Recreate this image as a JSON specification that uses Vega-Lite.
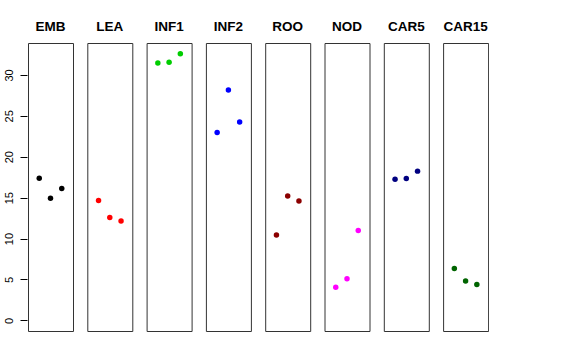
{
  "$schema": "https://vega.github.io/schema/vega-lite/v6.json",
  "padding": {"left": 3, "top": 19, "right": 0, "bottom": 0},
  "data": {"values": [
    {"tissue": "EMB", "rep": 1, "value": 17.38},
    {"tissue": "EMB", "rep": 2, "value": 14.93},
    {"tissue": "EMB", "rep": 3, "value": 16.12},
    {"tissue": "LEA", "rep": 1, "value": 14.65},
    {"tissue": "LEA", "rep": 2, "value": 12.57},
    {"tissue": "LEA", "rep": 3, "value": 12.15},
    {"tissue": "INF1", "rep": 1, "value": 31.46},
    {"tissue": "INF1", "rep": 2, "value": 31.54},
    {"tissue": "INF1", "rep": 3, "value": 32.6},
    {"tissue": "INF2", "rep": 1, "value": 22.97},
    {"tissue": "INF2", "rep": 2, "value": 28.15},
    {"tissue": "INF2", "rep": 3, "value": 24.24},
    {"tissue": "ROO", "rep": 1, "value": 10.44},
    {"tissue": "ROO", "rep": 2, "value": 15.21},
    {"tissue": "ROO", "rep": 3, "value": 14.6},
    {"tissue": "NOD", "rep": 1, "value": 4.04},
    {"tissue": "NOD", "rep": 2, "value": 5.1},
    {"tissue": "NOD", "rep": 3, "value": 10.98},
    {"tissue": "CAR5", "rep": 1, "value": 17.26},
    {"tissue": "CAR5", "rep": 2, "value": 17.34},
    {"tissue": "CAR5", "rep": 3, "value": 18.24},
    {"tissue": "CAR15", "rep": 1, "value": 6.33},
    {"tissue": "CAR15", "rep": 2, "value": 4.81},
    {"tissue": "CAR15", "rep": 3, "value": 4.37}
  ]},
  "facet": {
    "column": {
      "field": "tissue",
      "type": "nominal",
      "sort": ["EMB", "LEA", "INF1", "INF2", "ROO", "NOD", "CAR5", "CAR15"],
      "title": null,
      "header": {
        "labelFont": "Liberation Sans",
        "labelFontSize": 13.5,
        "labelFontWeight": "bold",
        "labelColor": "black",
        "labelPadding": 9
      }
    }
  },
  "spacing": 12.3,
  "spec": {
    "width": 45,
    "height": 288,
    "mark": {"type": "circle", "size": 30, "opacity": 1},
    "encoding": {
      "x": {
        "field": "rep",
        "type": "quantitative",
        "scale": {"domain": [0, 4], "nice": false, "zero": false},
        "axis": null
      },
      "y": {
        "field": "value",
        "type": "quantitative",
        "scale": {"domain": [-1.3, 33.9], "nice": false, "zero": false},
        "axis": {
          "title": null,
          "values": [0, 5, 10, 15, 20, 25, 30],
          "domain": false,
          "grid": false,
          "tickSize": 7,
          "tickColor": "black",
          "labelAngle": 270,
          "labelAlign": "center",
          "labelBaseline": "bottom",
          "labelPadding": 6,
          "labelFont": "Liberation Sans",
          "labelFontSize": 11,
          "labelColor": "black"
        }
      },
      "color": {
        "field": "tissue",
        "type": "nominal",
        "scale": {
          "domain": ["EMB", "LEA", "INF1", "INF2", "ROO", "NOD", "CAR5", "CAR15"],
          "range": ["#000000", "#FF0000", "#00CD00", "#0000FF", "#8B0000", "#FF00FF", "#000080", "#006400"]
        },
        "legend": null
      }
    }
  },
  "config": {
    "view": {"stroke": "#333333", "strokeWidth": 1}
  }
}
